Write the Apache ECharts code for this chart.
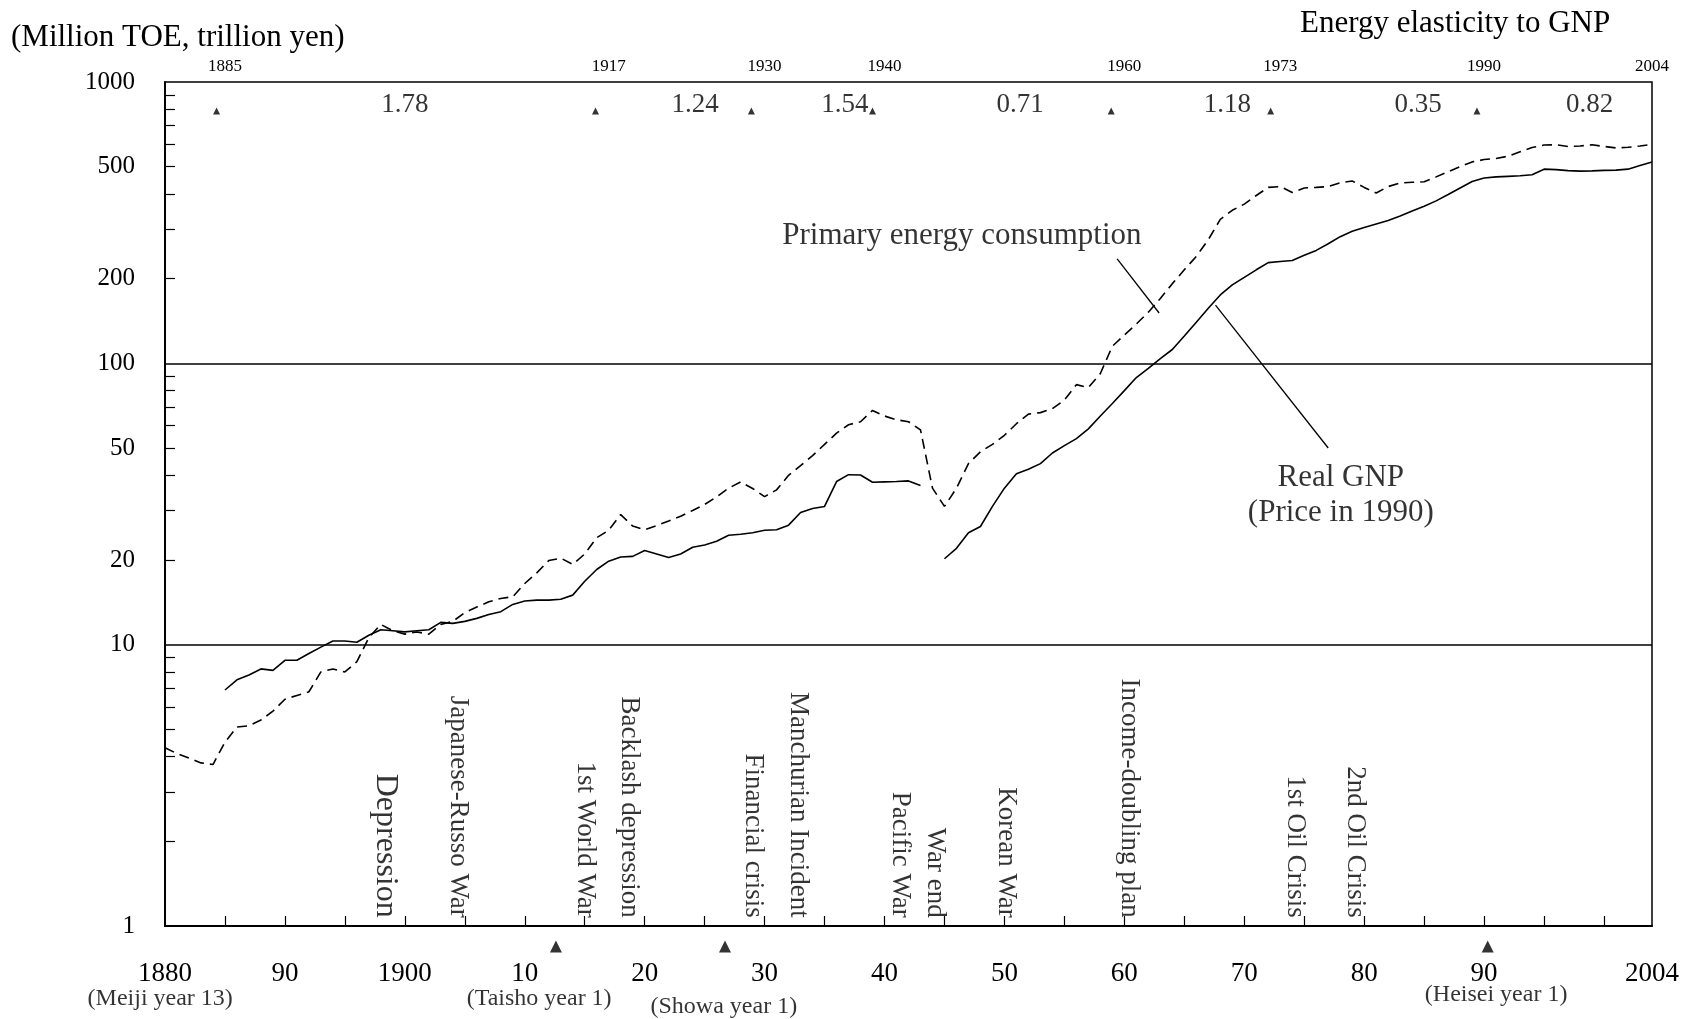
<!DOCTYPE html>
<html>
<head>
<meta charset="utf-8">
<script src="https://cdn.jsdelivr.net/npm/echarts@6/dist/echarts.min.js"></script>
<style>html,body{margin:0;padding:0;background:#fff}#c{width:1702px;height:1019px}</style>
</head>
<body>
<div id="c"></div>
<script>
// ---------------- data ----------------
const energyStartYear = 1880;
const energy = [
  4.3, 4.1, 3.95, 3.8, 3.75, 4.5, 5.1, 5.15, 5.4, 5.8,
  6.4, 6.6, 6.8, 8.0, 8.2, 8.0, 8.7, 10.6, 11.8, 11.2,
  10.9, 11.1, 10.9, 11.8, 12.1, 13.0, 13.6, 14.2, 14.6, 14.8,
  16.5, 18.0, 19.9, 20.3, 19.3, 21.0, 24.0, 25.5, 29.0, 26.4,
  25.6, 26.5, 27.5, 28.6, 30.0, 31.5, 33.5, 36.0, 37.9, 35.9,
  33.6, 35.5, 40.0, 43.3, 47.0, 51.5, 56.5, 60.5, 62.0, 68.0,
  65.0, 63.0, 62.0, 58.0, 36.0, 31.0, 36.0, 44.0, 48.5, 51.5,
  55.5, 61.0, 66.0, 66.8, 69.0, 74.0, 84.0, 82.0, 92.0, 115,
  126, 138, 152, 170, 192, 215, 240, 275, 325, 350,
  368, 395, 422, 425, 405, 420, 422, 425, 438, 445,
  422, 403, 425, 438, 440, 442, 460, 480, 500, 520,
  530, 535, 545, 565, 585, 597, 598, 590, 592, 598,
  590, 583, 586, 592, 600
];
const gnpStartYear = 1885;
const gnp = [
  6.9, 7.5, 7.8, 8.2, 8.1, 8.8, 8.8, 9.3, 9.8, 10.3,
  10.3, 10.2, 10.8, 11.3, 11.2, 11.1, 11.2, 11.3, 12.0, 11.9,
  12.1, 12.4, 12.8, 13.1, 13.9, 14.3, 14.4, 14.4, 14.5, 15.0,
  16.8, 18.5, 19.8, 20.5, 20.6, 21.6, 21.0, 20.4, 21.0, 22.2,
  22.6, 23.3, 24.5, 24.7, 25.0, 25.5, 25.6, 26.6, 29.5, 30.5,
  31.0, 38.0, 40.2, 40.1, 37.8, 37.9, 38.0, 38.2, 36.8, null,
  20.2, 22.0, 25.0, 26.3, 31.0, 36.0, 40.5, 42.0, 44.0, 48.0,
  51.0, 54.0, 58.5, 65.0, 72.0, 80.0, 89.0, 96.0, 104, 112,
  125, 140, 157, 175, 190, 202, 215, 228, 230, 232,
  242, 252, 266, 282, 295, 304, 313, 322, 334, 348,
  362, 378, 398, 420, 443, 456, 460, 462, 464, 468,
  490, 488, 484, 482, 483, 485, 486, 490, 505, 520
];

const xLabelValues = [1880, 1890, 1900, 1910, 1920, 1930, 1940, 1950, 1960, 1970, 1980, 1990, 2004];
const xLabelTexts  = ['1880', '90', '1900', '10', '20', '30', '40', '50', '60', '70', '80', '90', '2004'];
const xTickValues = [1885, 1890, 1895, 1900, 1905, 1910, 1915, 1920, 1925, 1930, 1935, 1940, 1945, 1950,
                     1955, 1960, 1965, 1970, 1975, 1980, 1985, 1990, 1995, 2000];
const yLabelValues = [1, 10, 20, 50, 100, 200, 500, 1000];
const yTickValues = [2, 3, 4, 5, 6, 7, 8, 9, 20, 30, 40, 50, 60, 70, 80, 90, 200, 300, 400, 500, 600, 700, 800, 900];
const refLines = [10, 100];

const topYearLabels = [1885, 1917, 1930, 1940, 1960, 1973, 1990, 2004];
const periodMarkX = [1884.3, 1915.9, 1928.9, 1939.0, 1958.9, 1972.2, 1989.4];
const periodMarkY = 789;
const elasticityTexts = ['1.78', '1.24', '1.54', '0.71', '1.18', '0.35', '0.82'];
const elasticityX = [1900.0, 1924.2, 1936.7, 1951.3, 1968.6, 1984.5, 1998.8];
const elasticityY = 829;

const eventNames = ['Depression', 'Japanese-Russo War', '1st World War', 'Backlash depression', 'Financial crisis',
  'Manchurian Incident', 'Pacific War', 'War end', 'Korean War', 'Income-doubling plan', '1st Oil Crisis', '2nd Oil Crisis'];
const eventX = [1898.4, 1904.4, 1915.0, 1918.7, 1929.0, 1932.8, 1941.3, 1944.2, 1950.1, 1960.4, 1974.2, 1979.2];
const eventY = 1.07;

const eraNames = ['(Meiji year 13)', '(Taisho year 1)', '(Showa year 1)', '(Heisei year 1)'];
const eraLabelX = [1879.6, 1911.2, 1926.6, 1991.0];
const eraLabelY = [0.55, 0.55, 0.515, 0.569];
const eraMarkX = [1912.6, 1926.7, 1990.3];
const eraMarkY = 0.845;

const energyLeader = [[1959.4, 235], [1962.9, 151]];
const gnpLeader = [[1967.6, 161], [1977.0, 50]];
const energyNote = {text: 'Primary energy consumption', x: 1946.45, y: 285};
const gnpNote = {text: 'Real GNP\n(Price in 1990)', x: 1978.05, y: 34};

// ---------------- chart ----------------
const FONT = '"Liberation Serif", "Times New Roman", serif';
const energyData = energy.map((v, i) => [energyStartYear + i, v]);
const gnpData = gnp.map((v, i) => [gnpStartYear + i, v]);

const chart = echarts.init(document.getElementById('c'), null, {renderer: 'canvas'});

function textSeries(items, labelOpt, extra) {
  return Object.assign({
    type: 'scatter', silent: true, clip: false, symbolSize: 1,
    itemStyle: {color: 'rgba(0,0,0,0)'},
    emphasis: {disabled: true},
    data: items,
    label: Object.assign({show: true, position: 'inside', formatter: '{b}', color: '#000', fontFamily: FONT}, labelOpt),
    z: 5
  }, extra || {});
}

const option = {
  animation: false,
  backgroundColor: '#fff',
  grid: {left: 165, right: 50, top: 82, bottom: 93, show: true, borderColor: '#000', borderWidth: 1.5, backgroundColor: 'transparent'},
  xAxis: [{
    type: 'value', min: 1880, max: 2004, position: 'bottom',
    axisLine: {show: true, lineStyle: {color: '#000', width: 2}},
    axisTick: {show: true, inside: true, length: 10, customValues: xTickValues, lineStyle: {color: '#000', width: 1.2}},
    axisLabel: {customValues: xLabelValues, margin: 34, color: '#000', fontFamily: FONT, fontSize: 27,
      formatter: v => { const i = xLabelValues.indexOf(Math.round(v)); return i >= 0 ? xLabelTexts[i] : ''; }},
    splitLine: {show: false}
  }, {
    type: 'value', min: 1880, max: 2004, position: 'top',
    axisLine: {show: false}, axisTick: {show: false},
    axisLabel: {customValues: topYearLabels, margin: 7, color: '#000', fontFamily: FONT, fontSize: 17,
      formatter: v => String(Math.round(v))},
    splitLine: {show: false}
  }],
  yAxis: {
    type: 'log', logBase: 10, min: 1, max: 1000,
    axisLine: {show: true, lineStyle: {color: '#000', width: 2}},
    axisTick: {show: true, inside: true, length: 10, customValues: yTickValues, lineStyle: {color: '#000', width: 1.2}},
    axisLabel: {customValues: yLabelValues, margin: 30, color: '#000', fontFamily: FONT, fontSize: 25,
      formatter: v => String(Math.round(v))},
    splitLine: {show: false},
    minorTick: {show: false}
  },
  graphic: [
    {type: 'text', x: 11, y: 38, style: {text: '(Million TOE, trillion yen)', fontFamily: FONT, fontSize: 31, fill: '#000', align: 'left', verticalAlign: 'middle'}},
    {type: 'text', x: 1300, y: 24, style: {text: 'Energy elasticity to GNP', fontFamily: FONT, fontSize: 31, fill: '#000', align: 'left', verticalAlign: 'middle'}}
  ],
  series: [
    {
      name: 'Primary energy consumption', type: 'line', data: energyData, showSymbol: false, silent: true,
      lineStyle: {color: '#000', width: 1.6, type: [10, 6]}, z: 3,
      markLine: {silent: true, symbol: 'none', label: {show: false},
        lineStyle: {color: '#000', type: 'solid', width: 1.5},
        data: refLines.map(v => ({yAxis: v}))}
    },
    {
      name: 'Real GNP', type: 'line', data: gnpData, showSymbol: false, silent: true, connectNulls: false,
      lineStyle: {color: '#000', width: 1.6, type: 'solid'}, z: 3
    },
    {type: 'line', data: energyLeader, showSymbol: false, silent: true, lineStyle: {color: '#000', width: 1.3}, z: 3},
    {type: 'line', data: gnpLeader, showSymbol: false, silent: true, lineStyle: {color: '#000', width: 1.3}, z: 3},
    // period markers (top)
    {type: 'scatter', silent: true, symbol: 'triangle', symbolSize: 7, itemStyle: {color: '#000'},
      data: periodMarkX.map(x => [x, periodMarkY]), z: 4},
    // elasticity values
    textSeries(elasticityTexts.map((t, i) => ({name: t, value: [elasticityX[i], elasticityY]})), {fontSize: 27}),
    // events (vertical)
    textSeries(eventNames.map((t, i) => ({name: t, value: [eventX[i], eventY],
        label: i === 0 ? {fontSize: 32} : undefined})),
      {fontSize: 27, rotate: -90, align: 'right', verticalAlign: 'middle'}),
    // era markers below axis
    {type: 'scatter', silent: true, clip: false, symbol: 'triangle', symbolSize: 12, itemStyle: {color: '#000'},
      data: eraMarkX.map(x => [x, eraMarkY]), z: 4},
    textSeries(eraNames.map((t, i) => ({name: t, value: [eraLabelX[i], eraLabelY[i]]})), {fontSize: 24}),
    // annotations
    textSeries([{name: energyNote.text, value: [energyNote.x, energyNote.y]}], {fontSize: 31}),
    textSeries([{name: gnpNote.text, value: [gnpNote.x, gnpNote.y]}], {fontSize: 31, lineHeight: 35, align: 'center'})
  ]
};
chart.setOption(option);
</script>
</body>
</html>
